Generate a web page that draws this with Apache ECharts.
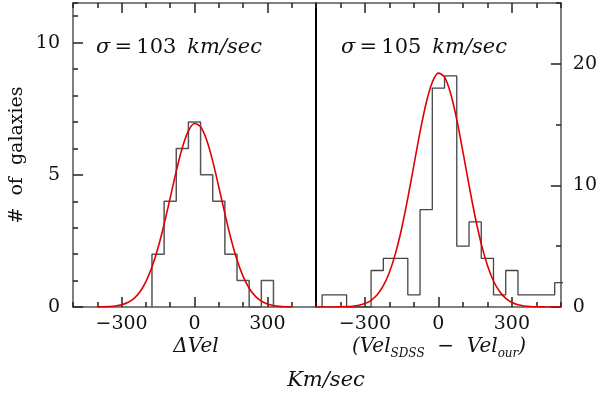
<!DOCTYPE html>
<html>
<head>
<meta charset="utf-8">
<script src="https://cdn.jsdelivr.net/npm/echarts@6/dist/echarts.min.js"></script>
<style>html,body{margin:0;padding:0;background:#fff}#c{width:600px;height:394px}</style>
</head>
<body>
<div id="c"></div>
<script>
// ---- data ----
const binWidth = 50;
const leftCenters = [-150, -100, -50, 0, 50, 100, 150, 200, 250, 300];
const leftCounts  = [2, 4, 6, 7, 5, 4, 2, 1, 0, 1];
const rightCenters = [-450, -400, -350, -300, -250, -200, -150, -100, -50, 0, 50, 100, 150, 200, 250, 300, 350, 400, 450, 500];
const rightCounts  = [1, 1, 0, 0, 3, 4, 4, 1, 8, 18, 19, 5, 7, 4, 1, 3, 1, 1, 1, 2];

const leftFitX = [-400,-375,-350,-325,-300,-275,-250,-225,-200,-175,-150,-125,-100,-75,-50,-25,0,25,50,75,100,125,150,175,200,225,250,275,300,325,350,375,400];
const leftFitY = [0.003,0.008,0.018,0.041,0.087,0.17,0.32,0.57,0.96,1.51,2.24,3.13,4.13,5.14,6.03,6.66,6.94,6.82,6.32,5.52,4.54,3.53,2.58,1.78,1.16,0.71,0.41,0.22,0.115,0.056,0.025,0.011,0.004];
const rightFitX = [-500,-475,-450,-425,-400,-375,-350,-325,-300,-275,-250,-225,-200,-175,-150,-125,-100,-75,-50,-25,0,25,50,75,100,125,150,175,200,225,250,275,300,325,350,375,400,425,450,475,500];
const rightFitY = [0.0002,0.0006,0.0016,0.0044,0.011,0.028,0.063,0.14,0.28,0.55,1.01,1.75,2.86,4.43,6.48,8.95,11.68,14.40,16.78,18.48,19.23,18.90,17.56,15.41,12.78,10.02,7.42,5.19,3.43,2.14,1.27,0.71,0.37,0.185,0.087,0.039,0.016,0.0065,0.0024,0.0009,0.0003];

const xTickLabels = [-300, 0, 300];
const leftYTickLabels = [0, 5, 10];
const rightYTickLabels = [0, 10, 20];
const sigmaLeft = '103';
const sigmaRight = '105';

// ---- helpers ----
function stepLine(centers, counts) {
  const pts = [];
  const h = binWidth / 2;
  pts.push([centers[0] - h, 0]);
  for (let i = 0; i < centers.length; i++) {
    pts.push([centers[i] - h, counts[i]]);
    pts.push([centers[i] + h, counts[i]]);
  }
  pts.push([centers[centers.length - 1] + h, 0]);
  return pts;
}
function zip(a, b) { return a.map((v, i) => [v, b[i]]); }

const FONT = 'DejaVu Serif';
const FRAME = '#555';
const TICK = '#222';
const fmtNum = v => (v < 0 ? '\u2212' + Math.abs(v) : String(v));
const tickStyle = (len) => ({ show: true, inside: true, length: len, lineStyle: { color: TICK, width: 1.5 } });
const ghostSplit = { show: true, lineStyle: { color: 'rgba(0,0,0,0)', width: 0 } };
const hidden = { axisLine: { show: false, onZero: false }, axisTick: { show: false }, axisLabel: { show: false }, splitLine: { show: false } };
const labelStyle = { fontFamily: FONT, fontSize: 19, color: '#111' };

const LEFT_RECT = { left: 73, top: 3, width: 243, height: 304 };
const RIGHT_RECT = { left: 316, top: 3, width: 245, height: 304 };
const XR = { min: -500, max: 500 };
const YL = { min: 0, max: 11.5 };
const YR = { min: 0, max: 25 };

function xMain(gridIndex, position, labels) {
  return {
    type: 'value', gridIndex, position, min: XR.min, max: XR.max,
    axisLine: { show: true, onZero: false, lineStyle: { color: FRAME, width: 1.5 } },
    axisTick: Object.assign(tickStyle(10), { customValues: xTickLabels }),
    axisLabel: labels ? Object.assign({ show: true, customValues: xTickLabels, formatter: fmtNum, margin: 8 }, labelStyle) : { show: false },
    splitLine: ghostSplit
  };
}
function xMinor(gridIndex, position) {
  return {
    type: 'value', gridIndex, position, min: XR.min, max: XR.max, interval: 100,
    axisLine: { show: false, onZero: false },
    axisTick: tickStyle(5),
    axisLabel: { show: false }, splitLine: ghostSplit
  };
}

const txt = { fontFamily: FONT, fontWeight: 'normal', fontSize: 21, color: '#111' };
const sigmaRich = {
  g: Object.assign({}, txt, { fontStyle: 'italic' }),
  n: Object.assign({}, txt),
  k: Object.assign({}, txt, { fontStyle: 'italic' })
};
const nameRich = {
  i: { fontFamily: FONT, fontStyle: 'italic', fontWeight: 'normal', fontSize: 20, lineHeight: 26, color: '#111' },
  p: { fontFamily: FONT, fontWeight: 'normal', fontSize: 20, lineHeight: 26, color: '#111' },
  s: { fontFamily: FONT, fontStyle: 'italic', fontWeight: 'normal', fontSize: 12, lineHeight: 12, verticalAlign: 'bottom', color: '#111' }
};

const option = {
  animation: false,
  title: [
    { text: '{g|\u03c3}{n|\u2009=\u2009' + sigmaLeft + '\u2009 }{k|km/sec}', left: 96, top: 37, padding: 0,
      textStyle: { fontWeight: 'normal', rich: sigmaRich } },
    { text: '{g|\u03c3}{n|\u2009=\u2009' + sigmaRight + '\u2009 }{k|km/sec}', left: 341, top: 37, padding: 0,
      textStyle: { fontWeight: 'normal', rich: sigmaRich } },
    { text: '{i|\u0394Vel}', left: 196, top: 334, textAlign: 'center', padding: 0,
      textStyle: { fontWeight: 'normal', rich: nameRich } },
    { text: '{i|(Vel}{s|SDSS}{p|  \u2212  }{i|Vel}{s|our}{i|)}', left: 439, top: 334, textAlign: 'center', padding: 0,
      textStyle: { fontWeight: 'normal', rich: nameRich } },
    { text: 'Km/sec', left: 326, top: 381, textAlign: 'center', textVerticalAlign: 'middle', padding: 0,
      textStyle: { fontFamily: FONT, fontStyle: 'italic', fontWeight: 'normal', fontSize: 21, color: '#111' } }
  ],
  grid: [
    LEFT_RECT, LEFT_RECT, LEFT_RECT, LEFT_RECT,
    RIGHT_RECT, RIGHT_RECT, RIGHT_RECT, RIGHT_RECT
  ],
  xAxis: [
    xMain(0, 'bottom', true),
    xMain(1, 'top', false),
    xMinor(2, 'bottom'),
    xMinor(3, 'top'),
    xMain(4, 'bottom', true),
    xMain(5, 'top', false),
    xMinor(6, 'bottom'),
    xMinor(7, 'top')
  ],
  yAxis: [
    { type: 'value', gridIndex: 0, position: 'left', min: YL.min, max: YL.max,
      axisLine: { show: true, onZero: false, lineStyle: { color: FRAME, width: 1.5 } },
      axisTick: Object.assign(tickStyle(10), { customValues: leftYTickLabels }),
      axisLabel: Object.assign({ show: true, customValues: leftYTickLabels, margin: 13 }, labelStyle),
      splitLine: ghostSplit,
      name: '#  of  galaxies', nameLocation: 'middle', nameGap: 46, nameRotate: 90,
      nameTextStyle: { fontFamily: FONT, fontSize: 19, color: '#111' } },
    { type: 'value', gridIndex: 1, position: 'right', min: YL.min, max: YL.max,
      axisLine: { show: true, onZero: false, lineStyle: { color: '#000', width: 2 } },
      axisTick: { show: false }, axisLabel: { show: false }, splitLine: { show: false } },
    { type: 'value', gridIndex: 2, position: 'left', min: YL.min, max: YL.max, interval: 1,
      axisLine: { show: false, onZero: false }, axisTick: tickStyle(5),
      axisLabel: { show: false }, splitLine: ghostSplit },
    Object.assign({ type: 'value', gridIndex: 3, position: 'right', min: YL.min, max: YL.max }, hidden),
    { type: 'value', gridIndex: 4, position: 'right', min: YR.min, max: YR.max,
      axisLine: { show: true, onZero: false, lineStyle: { color: FRAME, width: 1.5 } },
      axisTick: Object.assign(tickStyle(10), { customValues: rightYTickLabels }),
      axisLabel: Object.assign({ show: true, customValues: rightYTickLabels, margin: 12 }, labelStyle),
      splitLine: ghostSplit },
    Object.assign({ type: 'value', gridIndex: 5, position: 'left', min: YR.min, max: YR.max }, hidden),
    { type: 'value', gridIndex: 6, position: 'right', min: YR.min, max: YR.max, interval: 5,
      axisLine: { show: false, onZero: false }, axisTick: tickStyle(5),
      axisLabel: { show: false }, splitLine: ghostSplit },
    Object.assign({ type: 'value', gridIndex: 7, position: 'left', min: YR.min, max: YR.max }, hidden)
  ],
  series: [
    { type: 'line', xAxisIndex: 0, yAxisIndex: 0, data: stepLine(leftCenters, leftCounts), symbol: 'none',
      lineStyle: { color: '#555', width: 1.5 } },
    { type: 'line', xAxisIndex: 0, yAxisIndex: 0, data: zip(leftFitX, leftFitY), symbol: 'none', smooth: 0.3,
      lineStyle: { color: '#e00000', width: 1.6 } },
    { type: 'line', xAxisIndex: 4, yAxisIndex: 4, data: stepLine(rightCenters, rightCounts), symbol: 'none',
      lineStyle: { color: '#444', width: 1.3 } },
    { type: 'line', xAxisIndex: 4, yAxisIndex: 4, data: zip(rightFitX, rightFitY), symbol: 'none', smooth: 0.3,
      lineStyle: { color: '#e00000', width: 1.6 } }
  ]
};

const chart = echarts.init(document.getElementById('c'));
chart.setOption(option);
</script>
</body>
</html>
